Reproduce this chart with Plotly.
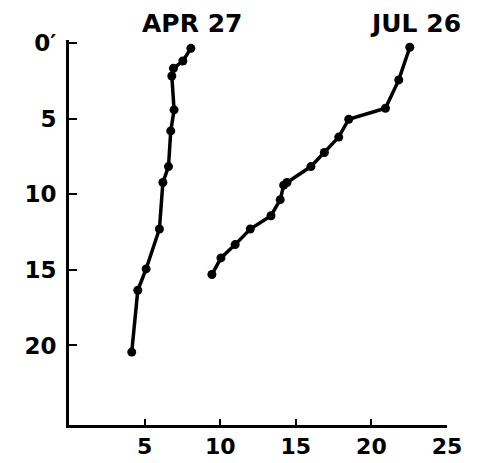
import plotly.graph_objects as go

# Temperature (x) vs depth (y) profiles
apr_temp = [8.06, 7.53, 6.91, 6.80, 6.95, 6.73, 6.58, 6.21, 5.98, 5.10, 4.55, 4.15]
apr_depth = [0.35, 1.19, 1.67, 2.18, 4.42, 5.81, 8.17, 9.22, 12.30, 14.94, 16.35, 20.44]

jul_temp = [22.54, 21.81, 20.93, 18.50, 17.84, 16.89, 16.00, 14.42, 14.2, 13.97, 13.36, 11.99, 10.99, 10.05, 9.45]
jul_depth = [0.28, 2.44, 4.31, 5.04, 6.22, 7.24, 8.17, 9.22, 9.4, 10.36, 11.42, 12.30, 13.33, 14.21, 15.31]

x_ticks = [5, 10, 15, 20, 25]
y_ticks = [0, 5, 10, 15, 20]
y_ticktext = ["0′", "5", "10", "15", "20"]

series_labels = ["APR 27", "JUL 26"]
label_x = [8.13, 22.9]

FONT = "DejaVu Sans"

fig = go.Figure()
for t, d in [(apr_temp, apr_depth), (jul_temp, jul_depth)]:
    fig.add_trace(go.Scatter(
        x=t, y=d, mode="lines+markers",
        line=dict(color="black", width=3.5),
        marker=dict(color="black", size=9),
        showlegend=False, cliponaxis=False,
    ))

for lab, lx in zip(series_labels, label_x):
    fig.add_annotation(x=lx, y=1.044, xref="x", yref="paper", text=lab,
                       showarrow=False,
                       font=dict(family=FONT, size=25, color="black", weight="bold"),
                       xanchor="center", yanchor="middle")

fig.update_layout(
    width=481, height=463,
    margin=dict(l=69, r=34, t=40, b=38),
    paper_bgcolor="white", plot_bgcolor="white",
    font=dict(family=FONT, color="black", size=23),
)
fig.update_xaxes(
    range=[0, 25], tickvals=x_ticks, ticktext=[str(v) for v in x_ticks],
    showgrid=False, zeroline=False, showline=True, linecolor="black", linewidth=3,
    ticks="inside", ticklen=6, tickwidth=2, tickcolor="black",
    tickfont=dict(family=FONT, size=22, color="black", weight="bold"),
    ticklabelstandoff=0, automargin=False,
)
fig.update_yaxes(
    range=[25.26, -0.2], tickvals=y_ticks, ticktext=y_ticktext,
    showgrid=False, zeroline=False, showline=True, linecolor="black", linewidth=3,
    ticks="inside", ticklen=8, tickwidth=2, tickcolor="black",
    tickfont=dict(family=FONT, size=23, color="black", weight="bold"),
    ticklabelstandoff=5, automargin=False,
)

fig.write_html("out.html")
